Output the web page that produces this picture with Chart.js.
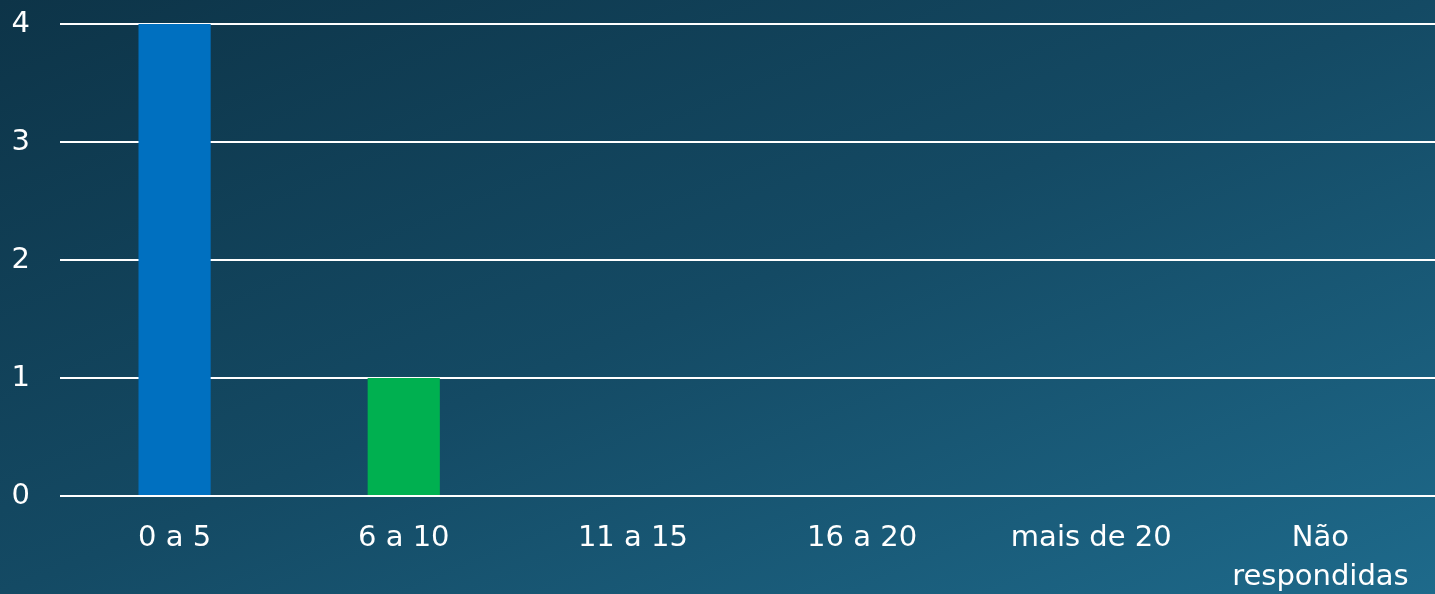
<!DOCTYPE html>
<html>
<head>
<meta charset="utf-8">
<script src="https://cdn.jsdelivr.net/npm/chart.js@4.4.0/dist/chart.umd.min.js"></script>
<style>
  html, body { margin: 0; padding: 0; }
  body {
    width: 1435px; height: 594px; overflow: hidden;
    background: linear-gradient(to bottom right, #0d3448 0%, #144a64 50%, #1e6a8b 100%);
  }
  #wrap { position: absolute; left: 0; top: 0; width: 1435px; height: 594px; }
</style>
</head>
<body>
<div id="wrap"><canvas id="c"></canvas></div>
<script>
const categories = ["0 a 5", "6 a 10", "11 a 15", "16 a 20", "mais de 20", ["Não", "respondidas"]];
const values = [4, 1, 0, 0, 0, 0];
const barColors = ["#0070C0", "#00B050", "#0070C0", "#0070C0", "#0070C0", "#0070C0"];
const yTicks = [0, 1, 2, 3, 4];

const XFONT = { family: "'DejaVu Sans', sans-serif", size: 29, weight: 'normal', lineHeight: 1.34 };
const YFONT = { family: "'DejaVu Sans', sans-serif", size: 29, weight: 'normal', lineHeight: 1.66 };

new Chart(document.getElementById('c'), {
  type: 'bar',
  data: {
    labels: categories,
    datasets: [{
      data: values,
      backgroundColor: barColors,
      borderWidth: 0,
      barPercentage: 1,
      categoryPercentage: 0.315
    }]
  },
  options: {
    responsive: true,
    maintainAspectRatio: false,
    animation: false,
    layout: { padding: 0 },
    plugins: { legend: { display: false }, tooltip: { enabled: false } },
    scales: {
      x: {
        grid: { display: false, drawTicks: false },
        border: { display: false },
        ticks: { color: '#ffffff', font: XFONT, padding: 23, maxRotation: 0, autoSkip: false },
        afterFit: (s) => { s.height = 98; }
      },
      y: {
        min: 0, max: 4,
        afterBuildTicks: (s) => { s.ticks = yTicks.map(v => ({ value: v })); },
        grid: { color: '#ffffff', lineWidth: 2, drawTicks: true, tickLength: 30, tickColor: 'rgba(0,0,0,0)' },
        border: { display: false },
        ticks: { color: '#ffffff', font: YFONT, padding: 0 },
        afterFit: (s) => { s.width = 60; }
      }
    }
  }
});
</script>
</body>
</html>
